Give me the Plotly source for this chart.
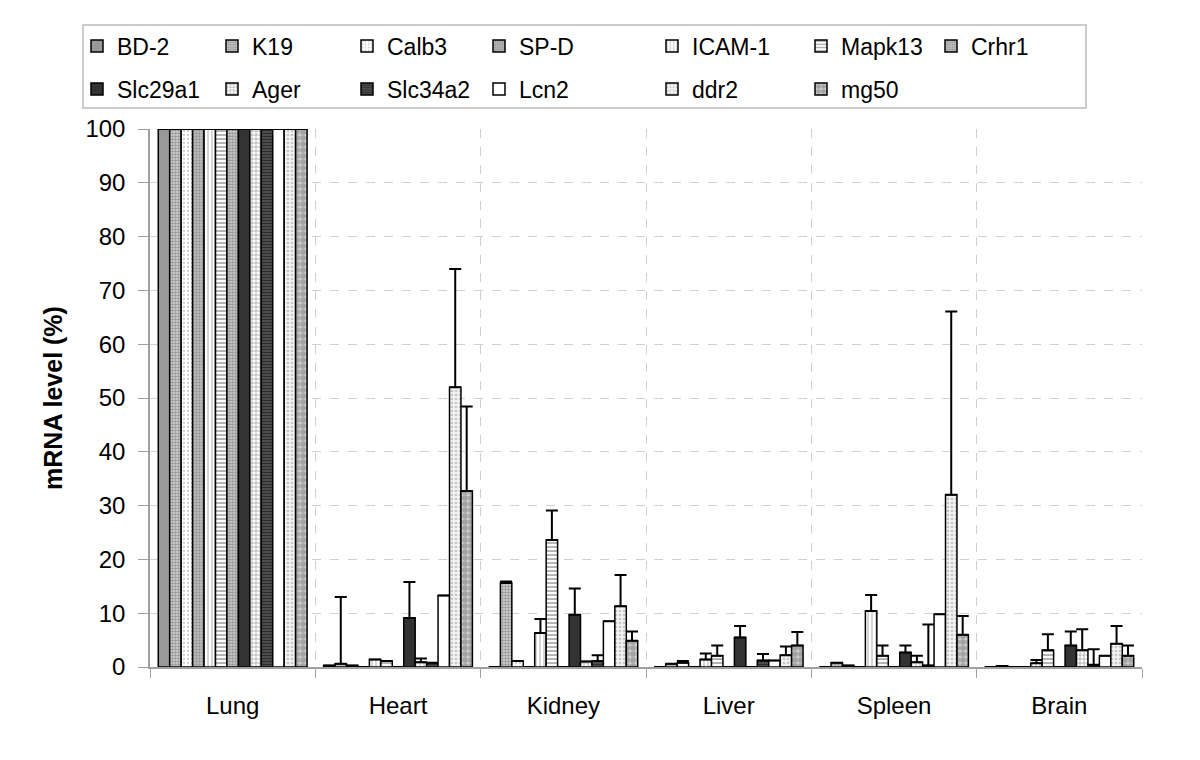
import plotly.graph_objects as go

tissues = ["Lung", "Heart", "Kidney", "Liver", "Spleen", "Brain"]
genes = ["BD-2", "K19", "Calb3", "SP-D", "ICAM-1", "Mapk13", "Crhr1",
         "Slc29a1", "Ager", "Slc34a2", "Lcn2", "ddr2", "mg50"]

# mRNA level (%) per gene, values for Lung, Heart, Kidney, Liver, Spleen, Brain
bd2     = [100, 0.3, 0.0, 0.0, 0.0, 0.0]
k19     = [100, 0.6, 15.6, 0.6, 0.8, 0.2]
calb3   = [100, 0.3, 1.1, 0.8, 0.3, 0.0]
spd     = [100, 0.0, 0.0, 0.0, 0.0, 0.0]
icam1   = [100, 1.4, 6.3, 1.4, 10.4, 0.7]
mapk13  = [100, 1.1, 23.6, 2.1, 2.1, 3.1]
crhr1   = [100, 0.0, 0.0, 0.0, 0.0, 0.0]
slc29a1 = [100, 9.1, 9.7, 5.5, 2.7, 4.0]
ager    = [100, 0.9, 1.0, 0.0, 0.9, 3.1]
slc34a2 = [100, 0.8, 1.1, 1.2, 0.3, 0.4]
lcn2    = [100, 13.3, 8.5, 1.2, 9.8, 2.1]
ddr2    = [100, 52.0, 11.3, 2.2, 32.0, 4.3]
mg50    = [100, 32.7, 4.9, 4.0, 6.0, 2.1]

# upper error (SD) per gene
bd2_err     = [0, 0, 0, 0, 0, 0]
k19_err     = [0.3, 12.4, 0.3, 0, 0, 0]
calb3_err   = [0, 0, 0, 0.3, 0, 0]
spd_err     = [0, 0, 0, 0, 0, 0]
icam1_err   = [0, 0, 2.6, 1.1, 3.0, 0.6]
mapk13_err  = [0, 0, 5.5, 1.9, 1.9, 3.0]
crhr1_err   = [0, 0, 0, 0, 0, 0]
slc29a1_err = [0, 6.7, 4.9, 2.1, 1.3, 2.6]
ager_err    = [0, 0.7, 0, 0, 1.2, 3.9]
slc34a2_err = [0, 0, 1.1, 1.2, 7.6, 2.9]
lcn2_err    = [0, 0, 0, 0, 0, 0]
ddr2_err    = [0, 22.0, 5.8, 1.6, 34.1, 3.3]
mg50_err    = [0, 15.7, 1.7, 2.5, 3.5, 1.9]

values = [bd2, k19, calb3, spd, icam1, mapk13, crhr1,
          slc29a1, ager, slc34a2, lcn2, ddr2, mg50]
errors = [bd2_err, k19_err, calb3_err, spd_err, icam1_err, mapk13_err, crhr1_err,
          slc29a1_err, ager_err, slc34a2_err, lcn2_err, ddr2_err, mg50_err]

# fill styles (shape, fg, bg, size, solidity)
styles = [
    ("", "#999999", "#999999", 4, 0.3),
    (".", "#555555", "#d8d8d8", 3, 0.55),
    (".", "#999999", "#ffffff", 4, 0.25),
    (".", "#666666", "#c4c4c4", 3, 0.5),
    ("|", "#888888", "#ffffff", 4, 0.35),
    ("-", "#444444", "#ffffff", 4, 0.4),
    (".", "#606060", "#d0d0d0", 3, 0.55),
    ("", "#333333", "#333333", 4, 0.3),
    ("+", "#444444", "#ffffff", 4, 0.35),
    ("-", "#000000", "#5a5a5a", 3, 0.55),
    ("", "#ffffff", "#ffffff", 4, 0.3),
    (".", "#999999", "#f2f2f2", 4, 0.35),
    (".", "#7a7a7a", "#cccccc", 6, 0.7),
]

fig = go.Figure()

# page body has an 8px margin; target screen pixels are converted to figure pixels
OFF = 8
ML, MR, MT, MB = 150 - OFF, 66, 129 - OFF, 101
PW = 1200 - ML - MR
PH = 760 - MT - MB
def px_x(X):
    return (X - OFF - ML) / PW
def px_y(Y):
    return (760 - MB - (Y - OFF)) / PH

col_left = [77, 212, 347, 479, 652, 801, 931]
row_y = [46, 89]

for i, g in enumerate(genes):
    shp, fg, bg, sz, sol = styles[i]
    if shp:
        marker = dict(color=bg, line=dict(color="black", width=1.5),
                      pattern=dict(shape=shp, fgcolor=fg, bgcolor=bg, size=sz,
                                   solidity=sol, fillmode="overlay"))
    else:
        marker = dict(color=fg, line=dict(color="black", width=1.5))
    lname = "legend" if i == 0 else f"legend{i+1}"
    fig.add_trace(go.Bar(
        x=tissues, y=values[i], name=g, marker=marker, showlegend=True,
        error_y=dict(type="data", array=errors[i], arrayminus=[0] * 6,
                     symmetric=False, color="black", thickness=2, width=6),
        legend=lname, cliponaxis=False,
    ))

legends = {}
for i in range(len(genes)):
    r, c = divmod(i, 7)
    key = "legend" if i == 0 else f"legend{i+1}"
    legends[key] = dict(x=px_x(col_left[c]), y=px_y(row_y[r]), xanchor="left",
                        yanchor="middle", bgcolor="rgba(0,0,0,0)", borderwidth=0,
                        font=dict(family="Liberation Sans, Arial", size=23, color="black"))

fig.update_layout(
    width=1200, height=760,
    margin=dict(l=ML, r=MR, t=MT, b=MB, autoexpand=False),
    paper_bgcolor="white", plot_bgcolor="white",
    showlegend=True,
    barmode="group", bargap=0.1, bargroupgap=0,
    font=dict(family="Liberation Sans, Arial", size=24, color="black"),
    **legends,
    shapes=[dict(type="rect", xref="paper", yref="paper",
                 x0=px_x(83), x1=px_x(1086), y0=px_y(108), y1=px_y(25),
                 line=dict(color="#bbbbbb", width=1.5), fillcolor="rgba(0,0,0,0)",
                 layer="below")],
)

fig.update_yaxes(range=[0, 100], dtick=10, showgrid=True, gridcolor="#d0d0d0",
                 griddash="dash", gridwidth=1, showline=True, linecolor="#a0a0a0",
                 linewidth=1.5, ticks="outside", ticklen=10, tickcolor="#a0a0a0",
                 zeroline=False, ticklabelstandoff=8,
                 title=dict(text="<b>mRNA level (%)</b>", font=dict(size=25), standoff=16),
                 tickfont=dict(size=24))
fig.update_xaxes(showgrid=True, gridcolor="#d0d0d0", griddash="dash", gridwidth=1,
                 tickson="boundaries", ticks="outside", ticklen=9, tickcolor="#a0a0a0",
                 showline=True, linecolor="#a0a0a0", linewidth=1.5,
                 ticklabelstandoff=16, tickfont=dict(size=24))

fig.write_html("out.html")
